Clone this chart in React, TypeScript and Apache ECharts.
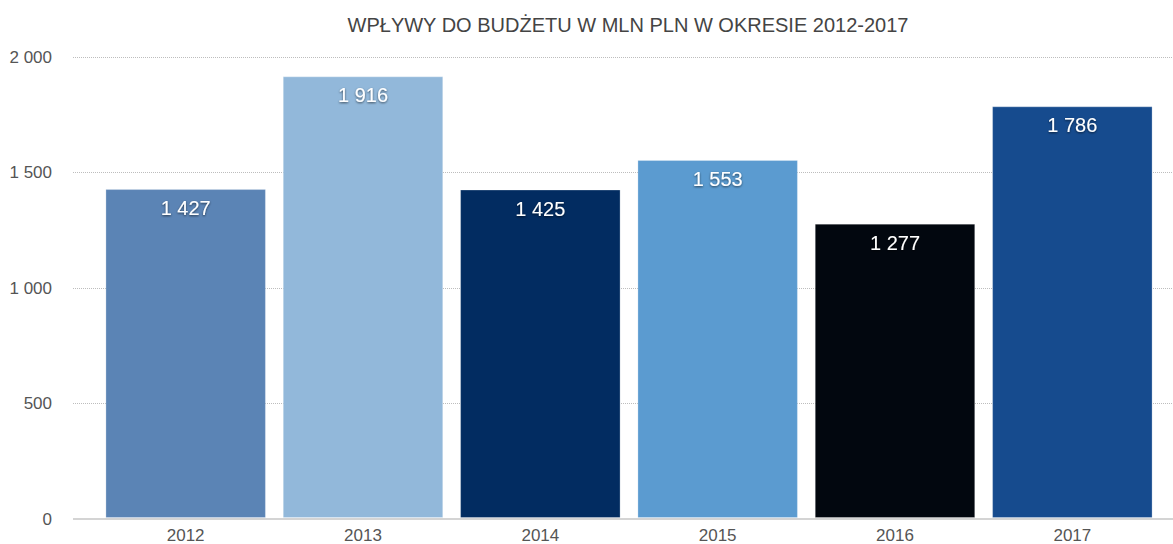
import React, { useEffect, useRef } from "react";
import * as echarts from "echarts";

const title = "WPŁYWY DO BUDŻETU W MLN PLN W OKRESIE 2012-2017";
const years = ["2012", "2013", "2014", "2015", "2016", "2017"];
const values = [1427, 1916, 1425, 1553, 1277, 1786];
const barColors = ["#5b84b5", "#92b8da", "#022c61", "#5b9bd0", "#02070f", "#164b8e"];
const yTicks = { min: 0, max: 2000, interval: 500 };

const fmt = (v: number) => String(v).replace(/\B(?=(\d{3})+(?!\d))/g, " ");

export default function App() {
  const ref = useRef<HTMLDivElement>(null);
  useEffect(() => {
    const chart = echarts.init(ref.current!, null, { renderer: "svg" });
    const font = "'Liberation Sans', Arial, Helvetica, sans-serif";
    chart.setOption({
      animation: false,
      textStyle: { fontFamily: font },
      title: {
        text: title,
        left: 623,
        textAlign: "center",
        top: 10,
        textStyle: { fontFamily: font, fontSize: 20, fontWeight: "normal", color: "#444" },
      },
      grid: [
        { left: 73, right: 0, top: 57, bottom: 25 },
        { left: 97, width: 1064, top: 57, bottom: 25 },
      ],
      xAxis: [
        { type: "category", gridIndex: 0, data: years, show: false },
        {
          type: "category",
          gridIndex: 1,
          data: years,
          axisLine: { show: false },
          axisTick: { show: false },
          axisLabel: { color: "#555", fontSize: 17, margin: 9, fontFamily: font },
        },
      ],
      yAxis: [
        {
          type: "value",
          gridIndex: 0,
          ...yTicks,
          axisLine: { show: false },
          axisTick: { show: false },
          axisLabel: {
            color: "#555",
            fontSize: 17,
            margin: 21,
            fontFamily: font,
            formatter: (v: number) => fmt(v),
          },
          splitLine: {
            show: true,
            lineStyle: { color: "#bdbdbd", type: "dotted", width: 1 },
          },
        },
        { type: "value", gridIndex: 1, ...yTicks, show: false },
      ],
      series: [
        {
          type: "line",
          xAxisIndex: 0,
          yAxisIndex: 0,
          data: [],
          markLine: {
            silent: true,
            symbol: "none",
            label: { show: false },
            lineStyle: { color: "#d4d4d4", type: "solid", width: 2 },
            data: [{ yAxis: 0 }],
          },
        },
        {
          type: "bar",
          xAxisIndex: 1,
          yAxisIndex: 1,
          barCategoryGap: "9.5%",
          data: values.map((v, i) => ({
            value: v,
            itemStyle: { color: barColors[i], borderColor: "rgba(255,255,255,0.25)", borderWidth: 1 },
          })),
          label: {
            show: true,
            position: "insideTop",
            distance: 9,
            color: "#fff",
            fontSize: 20,
            fontFamily: font,
            textShadowColor: "rgba(0,0,0,0.6)",
            textShadowBlur: 2,
            textShadowOffsetY: 1,
            formatter: (p: any) => fmt(p.value),
          },
        },
      ],
    });
    return () => chart.dispose();
  }, []);
  return (
    <div
      ref={ref}
      style={{ position: "fixed", left: 0, top: 0, width: 1173, height: 544, background: "#fff" }}
    />
  );
}
